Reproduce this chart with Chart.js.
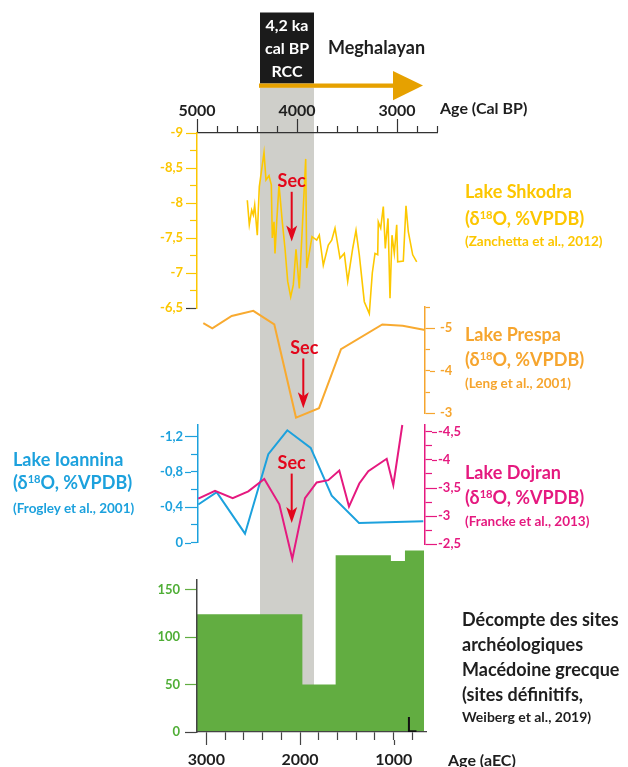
<!DOCTYPE html>
<html>
<head>
<meta charset="utf-8">
<script src="https://cdn.jsdelivr.net/npm/chart.js@4/dist/chart.umd.min.js"></script>
<style>
html,body{margin:0;padding:0;background:#fff;}
#wrap{position:relative;width:628px;height:767px;overflow:hidden;font-family:Lato,"Open Sans",sans-serif;font-weight:700;}
#wrap canvas{position:absolute;left:0;top:0;}
.t{position:absolute;white-space:nowrap;}
sup{font-size:0.62em;vertical-align:0;position:relative;top:-0.5em;line-height:0;}
</style>
</head>
<body>
<div id="wrap">
<canvas id="cA" width="628" height="767"></canvas>
<canvas id="cB" width="628" height="767"></canvas>
<canvas id="cC" width="628" height="767"></canvas>
<canvas id="cD" width="628" height="767"></canvas>
<canvas id="cE1" width="628" height="767"></canvas>
<canvas id="cE2" width="628" height="767"></canvas>
</div>
<script>
// ---------------- DATA ----------------
// Lake Shkodra d18O (age cal BP)
const shkAge = [4497,4477,4453,4437,4423,4397,4377,4330,4310,4280,4257,4247,4230,4220,4203,4180,4147,4120,4093,4063,4037,4010,3977,3953,3913,3903,3850,3803,3777,3737,3687,3653,3620,3570,3527,3493,3443,3410,3377,3327,3277,3247,3220,3193,3187,3163,3137,3117,3090,3070,3050,3027,3003,2993,2937,2910,2887,2843,2803];
const shkD18O = [-8.04,-7.69,-7.90,-7.83,-7.97,-7.54,-8.23,-8.72,-8.33,-8.39,-8.26,-7.50,-7.73,-7.28,-7.73,-8.26,-7.73,-7.35,-6.88,-6.66,-6.83,-7.34,-6.78,-7.47,-8.63,-7.07,-7.52,-7.47,-7.54,-7.11,-7.40,-7.47,-7.64,-7.21,-7.28,-6.88,-7.35,-7.61,-7.26,-6.59,-6.42,-7.00,-7.28,-7.26,-7.73,-7.64,-7.95,-7.35,-7.78,-6.64,-7.54,-7.28,-7.69,-7.16,-7.17,-7.96,-7.59,-7.26,-7.16];
// Lake Prespa d18O (age cal BP)
const preAge = [4937,4847,4653,4437,4227,4010,3780,3560,3147,2943,2720];
const preD18O = [-5.12,-5.00,-5.29,-5.41,-5.09,-2.90,-3.12,-4.51,-5.09,-5.06,-4.96];
// Lake Ioannina d18O (age cal BP)
const ioaAge = [4987,4803,4520,4287,4097,3863,3653,3380,2737];
const ioaD18O = [-0.43,-0.57,-0.10,-1.00,-1.27,-1.07,-0.53,-0.22,-0.24];
// Lake Dojran d18O (age cal BP)
const dojAge = [4987,4820,4643,4487,4327,4177,4047,3920,3803,3687,3577,3480,3377,3287,3103,3037,2947];
const dojD18O = [-3.31,-3.45,-3.32,-3.44,-3.66,-3.21,-2.24,-3.32,-3.60,-3.64,-3.81,-3.17,-3.58,-3.80,-4.02,-3.55,-4.62];
// Archaeological site counts, Greek Macedonia (periods in years BCE)
const sitePeriodFrom = [3100,1975,1620,1030,880];
const sitePeriodTo   = [1975,1620,1030,880,676];
const siteCount      = [124,50,186,180,191];
// 4.2 ka event band (cal BP) and Meghalayan arrow
const rccBand = [4370,3830];
const meghalayanArrow = [4370,3040,2740];
// "Sec" arrows [age, from value, to value]
const secShk = [4053,-8.16,-7.45];
const secPre = [3937,-4.29,-3.12];
const secIoa = [4053,-0.78,-0.22];
// tick labels
const topTickEvery = 1000, bottomTickEvery = 1000;

// ---------------- STYLE ----------------
const yellow = '#fcc600', orange = '#f6a52e', blue = '#1ca1dd', pink = '#e5197f';
const green = '#62ad41', greenTxt = '#4fae36', red = '#e3061b', dark = '#1e1e1e';
const FONT = 'Lato';

function isMult(v, m){ const r = v / m; return Math.abs(r - Math.round(r)) < 1e-6; }
function fmt(v){ const r = Math.round(v * 100) / 100; return (r === 0 ? '0' : String(r)).replace('.', ','); }
function pts(xs, ys){ return xs.map((a, i) => ({x: a, y: ys[i]})); }

// longer major ticks
function majorTicks(items){
  return { id: 'majorTicks', afterDraw(chart){
    const ctx = chart.ctx;
    items.forEach(it => {
      const s = chart.scales[it.scale];
      ctx.save(); ctx.lineWidth = 1.2;
      s.ticks.forEach(t => {
        if (!isMult(t.value, it.every)) return;
        const p = Math.round(s.getPixelForValue(t.value)) + 0.5;
        ctx.strokeStyle = (it.darkAt !== undefined && Math.abs(t.value - it.darkAt) < 1e-6) ? '#333' : it.color;
        ctx.beginPath();
        if (s.position === 'top'){ ctx.moveTo(p, s.bottom - it.from); ctx.lineTo(p, s.bottom - it.to); }
        else if (s.position === 'bottom'){ ctx.moveTo(p, s.top + it.from); ctx.lineTo(p, s.top + it.to); }
        else if (s.position === 'left'){ ctx.moveTo(s.right - it.from, p); ctx.lineTo(s.right - it.to, p); }
        else { ctx.moveTo(s.left + it.from, p); ctx.lineTo(s.left + it.to, p); }
        ctx.stroke();
      });
      ctx.restore();
    });
  }};
}
function downArrow(ctx, x, y1, y2){
  ctx.save(); ctx.strokeStyle = red; ctx.fillStyle = red; ctx.lineWidth = 2;
  ctx.beginPath(); ctx.moveTo(x, y1); ctx.lineTo(x, y2 - 12); ctx.stroke();
  ctx.beginPath(); ctx.moveTo(x - 5.5, y2 - 16); ctx.lineTo(x, y2 - 12); ctx.lineTo(x + 5.5, y2 - 16); ctx.lineTo(x, y2); ctx.closePath(); ctx.fill();
  ctx.restore();
}
function secPlugin(sec){
  return { id: 'sec', afterDraw(chart){
    const x = chart.scales.x.getPixelForValue(sec[0]);
    downArrow(chart.ctx, x, chart.scales.y.getPixelForValue(sec[1]), chart.scales.y.getPixelForValue(sec[2]));
  }};
}
const decoA = { id: 'decoA',
  beforeDraw(chart){
    const xs = chart.scales.x, ctx = chart.ctx;
    const xl = xs.getPixelForValue(rccBand[0]), xr = xs.getPixelForValue(rccBand[1]);
    ctx.save(); ctx.fillStyle = '#cfcfca'; ctx.fillRect(xl, 87.5, xr - xl, 732 - 87.5); ctx.restore();
  },
  afterDraw(chart){
    const xs = chart.scales.x, ctx = chart.ctx;
    const xl = xs.getPixelForValue(rccBand[0]), xr = xs.getPixelForValue(rccBand[1]);
    ctx.save();
    ctx.fillStyle = '#1b1b1b'; ctx.fillRect(xl, 12.5, xr - xl, 71);
    const a0 = xs.getPixelForValue(meghalayanArrow[0]), ah = xs.getPixelForValue(meghalayanArrow[1]), at = xs.getPixelForValue(meghalayanArrow[2]);
    ctx.fillStyle = '#e6a100';
    ctx.fillRect(a0 - 1, 83.5, ah - a0 + 2, 4.3);
    ctx.beginPath(); ctx.moveTo(ah, 71); ctx.lineTo(at, 85.6); ctx.lineTo(ah, 100.3); ctx.closePath(); ctx.fill();
    ctx.restore();
  }
};

function hidden(min, max, rev){ return {type: 'linear', display: false, min, max, reverse: rev}; }
function yAx(o){
  return {
    type: 'linear', position: o.pos, reverse: o.rev !== false, min: o.min, max: o.max,
    afterFit: s => { s.width = o.w; },
    grid: { drawOnChartArea: false, drawTicks: true, tickLength: o.tl, tickWidth: 1.2,
      tickColor: c => (!c.tick || !isMult(c.tick.value, o.step)) ? 'rgba(0,0,0,0)' :
        ((o.darkAt !== undefined && Math.abs(c.tick.value - o.darkAt) < 1e-6) ? '#444' : o.tickColor || o.color) },
    border: { display: true, color: o.border || o.color, width: 1.5 },
    ticks: { stepSize: o.step, autoSkip: false, includeBounds: false, padding: o.pad, color: o.labelColor || o.color,
      font: { family: FONT, size: 13, weight: 'bold' },
      callback: v => isMult(v, o.every) ? fmt(v) : '' }
  };
}
function mk(id, pad, scales, datasets, plugins){
  return new Chart(document.getElementById(id), {
    type: 'line',
    data: { datasets },
    options: {
      responsive: false, animation: false, events: [],
      layout: { padding: pad, autoPadding: false },
      plugins: { legend: { display: false }, tooltip: { enabled: false } },
      elements: { point: { radius: 0 }, line: { tension: 0 } },
      scales
    },
    plugins: plugins || []
  });
}
const lineDs = (xs, ys, color, w) => ({ data: pts(xs, ys), borderColor: color, borderWidth: w, pointRadius: 0, fill: false, clip: false });

// Chart A: top age axis + Lake Shkodra
mk('cA', {left: 0, top: 0, right: 191, bottom: 459}, {
  x: { type: 'linear', position: 'top', reverse: true, min: 2600, max: 5000,
    afterFit: s => { s.height = 133; },
    grid: { drawOnChartArea: false, drawTicks: true, tickLength: 7, tickColor: '#333', tickWidth: 1.2 },
    border: { display: true, color: '#333', width: 1.3 },
    ticks: { stepSize: 200, autoSkip: false, maxRotation: 0, padding: 6, color: dark,
      font: { family: FONT, size: 16, weight: 'bold' }, callback: v => isMult(v, topTickEvery) ? String(v) : '' } },
  y: yAx({pos: 'left', min: -9, max: -6.5, step: 0.25, every: 0.5, color: yellow, w: 197, tl: 7, pad: 7, darkAt: -6.5})
}, [lineDs(shkAge, shkD18O, '#fdc800', 1.6)], [decoA, majorTicks([
  {scale: 'x', every: 1000, from: 7, to: 14, color: '#333'},
  {scale: 'y', every: 0.5, from: 7, to: 11, color: yellow, darkAt: -6.5}]), secPlugin(secShk)]);

// Chart B: Lake Prespa
mk('cB', {left: 197, top: 307, right: 0, bottom: 353.7}, {
  x: hidden(2720, 5000, true),
  y: yAx({pos: 'right', min: -5.5, max: -3, step: 0.5, every: 1, color: orange, w: 203, tl: 5, pad: 10})
}, [lineDs(preAge, preD18O, '#f8aa30', 2)], [majorTicks([{scale: 'y', every: 1, from: 5, to: 10, color: orange}]), secPlugin(secPre)]);

// Chart C: Lake Ioannina
mk('cC', {left: 0, top: 425, right: 203, bottom: 224.5}, {
  x: hidden(2720, 4990, true),
  y: yAx({pos: 'left', min: -1.33, max: 0, step: 0.2, every: 0.4, color: blue, w: 198, tl: 7, pad: 8})
}, [lineDs(ioaAge, ioaD18O, blue, 2)], [majorTicks([{scale: 'y', every: 0.4, from: 7, to: 13, color: blue}]), secPlugin(secIoa)]);

// Chart D: Lake Dojran
mk('cD', {left: 197, top: 425, right: 0, bottom: 222.7}, {
  x: hidden(2720, 5000, true),
  y: yAx({pos: 'right', min: -4.62, max: -2.5, step: 0.25, every: 0.5, color: pink, w: 203, tl: 7, pad: 6})
}, [lineDs(dojAge, dojD18O, pink, 2)], [majorTicks([{scale: 'y', every: 0.5, from: 7, to: 12, color: pink}])]);

// Chart E1: site counts (stepped filled area)
const stepPts = sitePeriodFrom.map((a, i) => ({x: a, y: siteCount[i]}))
  .concat([{x: sitePeriodTo[sitePeriodTo.length - 1], y: siteCount[siteCount.length - 1]}]);
mk('cE1', {left: 197, top: 542, right: 201.5, bottom: 35}, {
  x: hidden(650, 3100, true),
  y: { type: 'linear', display: false, min: 0, max: 200 }
}, [{ data: stepPts, stepped: 'before', fill: 'origin', backgroundColor: green, borderColor: 'rgba(0,0,0,0)', borderWidth: 0, pointRadius: 0 }]);

// Chart E2: axes of the site-count panel
mk('cE2', {left: 0, top: 580, right: 201.5, bottom: 0}, {
  x: { type: 'linear', position: 'bottom', reverse: true, min: 650, max: 3100,
    afterFit: s => { s.height = 35; },
    grid: { drawOnChartArea: false, drawTicks: true, tickLength: 8, tickColor: '#444', tickWidth: 1.2 },
    border: { display: true, color: '#444', width: 1.3 },
    ticks: { stepSize: 200, includeBounds: false, autoSkip: false, maxRotation: 0, padding: 10, color: dark,
      font: { family: FONT, size: 16, weight: 'bold' }, callback: v => isMult(v, bottomTickEvery) ? String(v) : '' } },
  y: yAx({pos: 'left', rev: false, min: 0, max: 160, step: 50, every: 50, color: greenTxt, tickColor: green, border: '#444', w: 197, tl: 12, pad: 5, darkAt: 0})
}, [], [majorTicks([{scale: 'x', every: 1000, from: 8, to: 13, color: '#444'}])]);

// ---------------- TEXT ----------------
const sup = '(δ<sup>18</sup>O, %VPDB)';
const texts = [
  ['4,2 ka', 287, 25, 16, '#fff', 'c'], ['cal BP', 287, 48, 16, '#fff', 'c'], ['RCC', 287, 71, 16, '#fff', 'c'],
  ['Meghalayan', 328, 48, 18, dark], ['Age (Cal BP)', 440, 108.5, 16, dark],
  ['Sec', 291.7, 181.7, 18, red, 'c'], ['Sec', 304.3, 348.3, 18, red, 'c'], ['Sec', 291.7, 463.3, 18, red, 'c'],
  ['Lake Shkodra', 465, 192.7, 18, yellow], [sup, 465, 219.3, 18, yellow], ['(Zanchetta et al., 2012)', 465, 241.7, 13.5, yellow],
  ['Lake Prespa', 465, 335, 18, orange], [sup, 465, 360, 18, orange], ['(Leng et al., 2001)', 465, 383.3, 13.5, orange],
  ['Lake Ioannina', 13, 460, 18, blue], [sup, 13, 483.3, 18, blue], ['(Frogley et al., 2001)', 13, 508.3, 13.5, blue],
  ['Lake Dojran', 465, 473.3, 18, pink], [sup, 465, 498.3, 18, pink], ['(Francke et al., 2013)', 465, 521.7, 13.5, pink],
  ['Décompte des sites', 462, 620, 18, dark], ['archéologiques', 462, 645, 18, dark], ['Macédoine grecque', 462, 670, 18, dark],
  ['(sites définitifs,', 462, 695, 18, dark], ['Weiberg et al., 2019)', 462, 718.3, 14, dark],
  ['L', 406, 724.5, 21, '#111', 'l', 400], ['Age (aEC)', 448, 760, 16, dark]
];
const wrap = document.getElementById('wrap');
texts.forEach(([h, x, cy, size, color, align, weight]) => {
  const d = document.createElement('div');
  d.className = 't'; d.innerHTML = h;
  d.style.fontSize = size + 'px'; d.style.lineHeight = (size * 1.2) + 'px'; d.style.color = color;
  d.style.top = (cy - size * 0.63) + 'px'; d.style.left = x + 'px';
  if (align === 'c') d.style.transform = 'translateX(-50%)';
  if (weight) d.style.fontWeight = weight;
  wrap.appendChild(d);
});
</script>
</body>
</html>
